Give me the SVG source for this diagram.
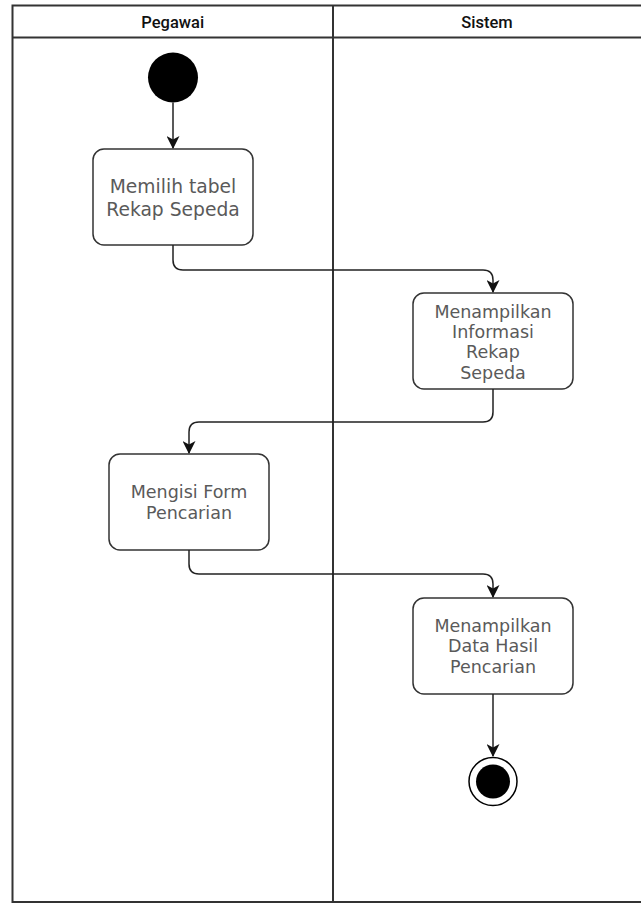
<svg xmlns="http://www.w3.org/2000/svg" width="641" height="904" viewBox="0 0 641 904">
<style>
.lane{fill:none;stroke:#333;stroke-width:2}
.hdr{font-family:"Roboto","Liberation Sans",sans-serif;font-weight:500;font-size:16.5px;fill:#111;text-anchor:middle}
.act{fill:#fff;stroke:#333;stroke-width:1.5}
.lbl{font-family:"DejaVu Sans",sans-serif;fill:#5a5a5a;text-anchor:middle}
.edge{fill:none;stroke:#222;stroke-width:1.5}
</style>
<defs>
<marker id="arr" viewBox="0 0 13 13" refX="12" refY="6.5" markerWidth="13" markerHeight="13" markerUnits="userSpaceOnUse" orient="auto">
<path d="M0,0 L13,6.5 L0,13 L3.5,6.5 Z" fill="#111"/>
</marker>
</defs>
<rect x="0" y="0" width="641" height="904" fill="#fff"/>
<g id="pool">
<rect class="lane" x="12.5" y="5.5" width="641" height="896.5"/>
<line class="lane" x1="12.5" y1="37.5" x2="653.5" y2="37.5"/>
<line class="lane" x1="333" y1="5.5" x2="333" y2="902"/>
</g>
<g id="lane-pegawai"><text class="hdr" x="172.7" y="27.5">Pegawai</text></g>
<g id="lane-sistem"><text class="hdr" x="487" y="27.5">Sistem</text></g>
<g id="start"><circle cx="173" cy="77.5" r="25" fill="#000"/></g>
<g id="a1">
<rect class="act" x="93" y="149" width="160" height="96" rx="11"/>
<text class="lbl" font-size="18.7" x="173" y="193">Memilih tabel</text>
<text class="lbl" font-size="18.7" x="173" y="216">Rekap Sepeda</text>
</g>
<g id="a2">
<rect class="act" x="413" y="293" width="160" height="96" rx="11"/>
<text class="lbl" font-size="17.5" x="493" y="318">Menampilkan</text>
<text class="lbl" font-size="17.5" x="493" y="338">Informasi</text>
<text class="lbl" font-size="17.5" x="493" y="358">Rekap</text>
<text class="lbl" font-size="17.5" x="493" y="379">Sepeda</text>
</g>
<g id="a3">
<rect class="act" x="109" y="454" width="160" height="96" rx="11"/>
<text class="lbl" font-size="17.5" x="189" y="498">Mengisi Form</text>
<text class="lbl" font-size="17.5" x="189" y="519">Pencarian</text>
</g>
<g id="a4">
<rect class="act" x="413" y="598" width="160" height="96" rx="11"/>
<text class="lbl" font-size="17.5" x="493" y="632">Menampilkan</text>
<text class="lbl" font-size="17.5" x="493" y="652">Data Hasil</text>
<text class="lbl" font-size="17.5" x="493" y="673">Pencarian</text>
</g>
<g id="end">
<circle cx="493" cy="781.5" r="24" fill="#fff" stroke="#000" stroke-width="1.5"/>
<circle cx="493" cy="781.5" r="17" fill="#000"/>
</g>
<g id="connectors">
<path class="edge" marker-end="url(#arr)" d="M173,102.5 L173,148"/>
<path class="edge" marker-end="url(#arr)" d="M173,245 L173,260 Q173,270 183,270 L483,270 Q493,270 493,280 L493,292"/>
<path class="edge" marker-end="url(#arr)" d="M493,389 L493,412 Q493,422 483,422 L199,422 Q189,422 189,432 L189,453"/>
<path class="edge" marker-end="url(#arr)" d="M189,550 L189,564 Q189,574 199,574 L483,574 Q493,574 493,584 L493,597"/>
<path class="edge" marker-end="url(#arr)" d="M493,694 L493,756"/>
</g>
</svg>
